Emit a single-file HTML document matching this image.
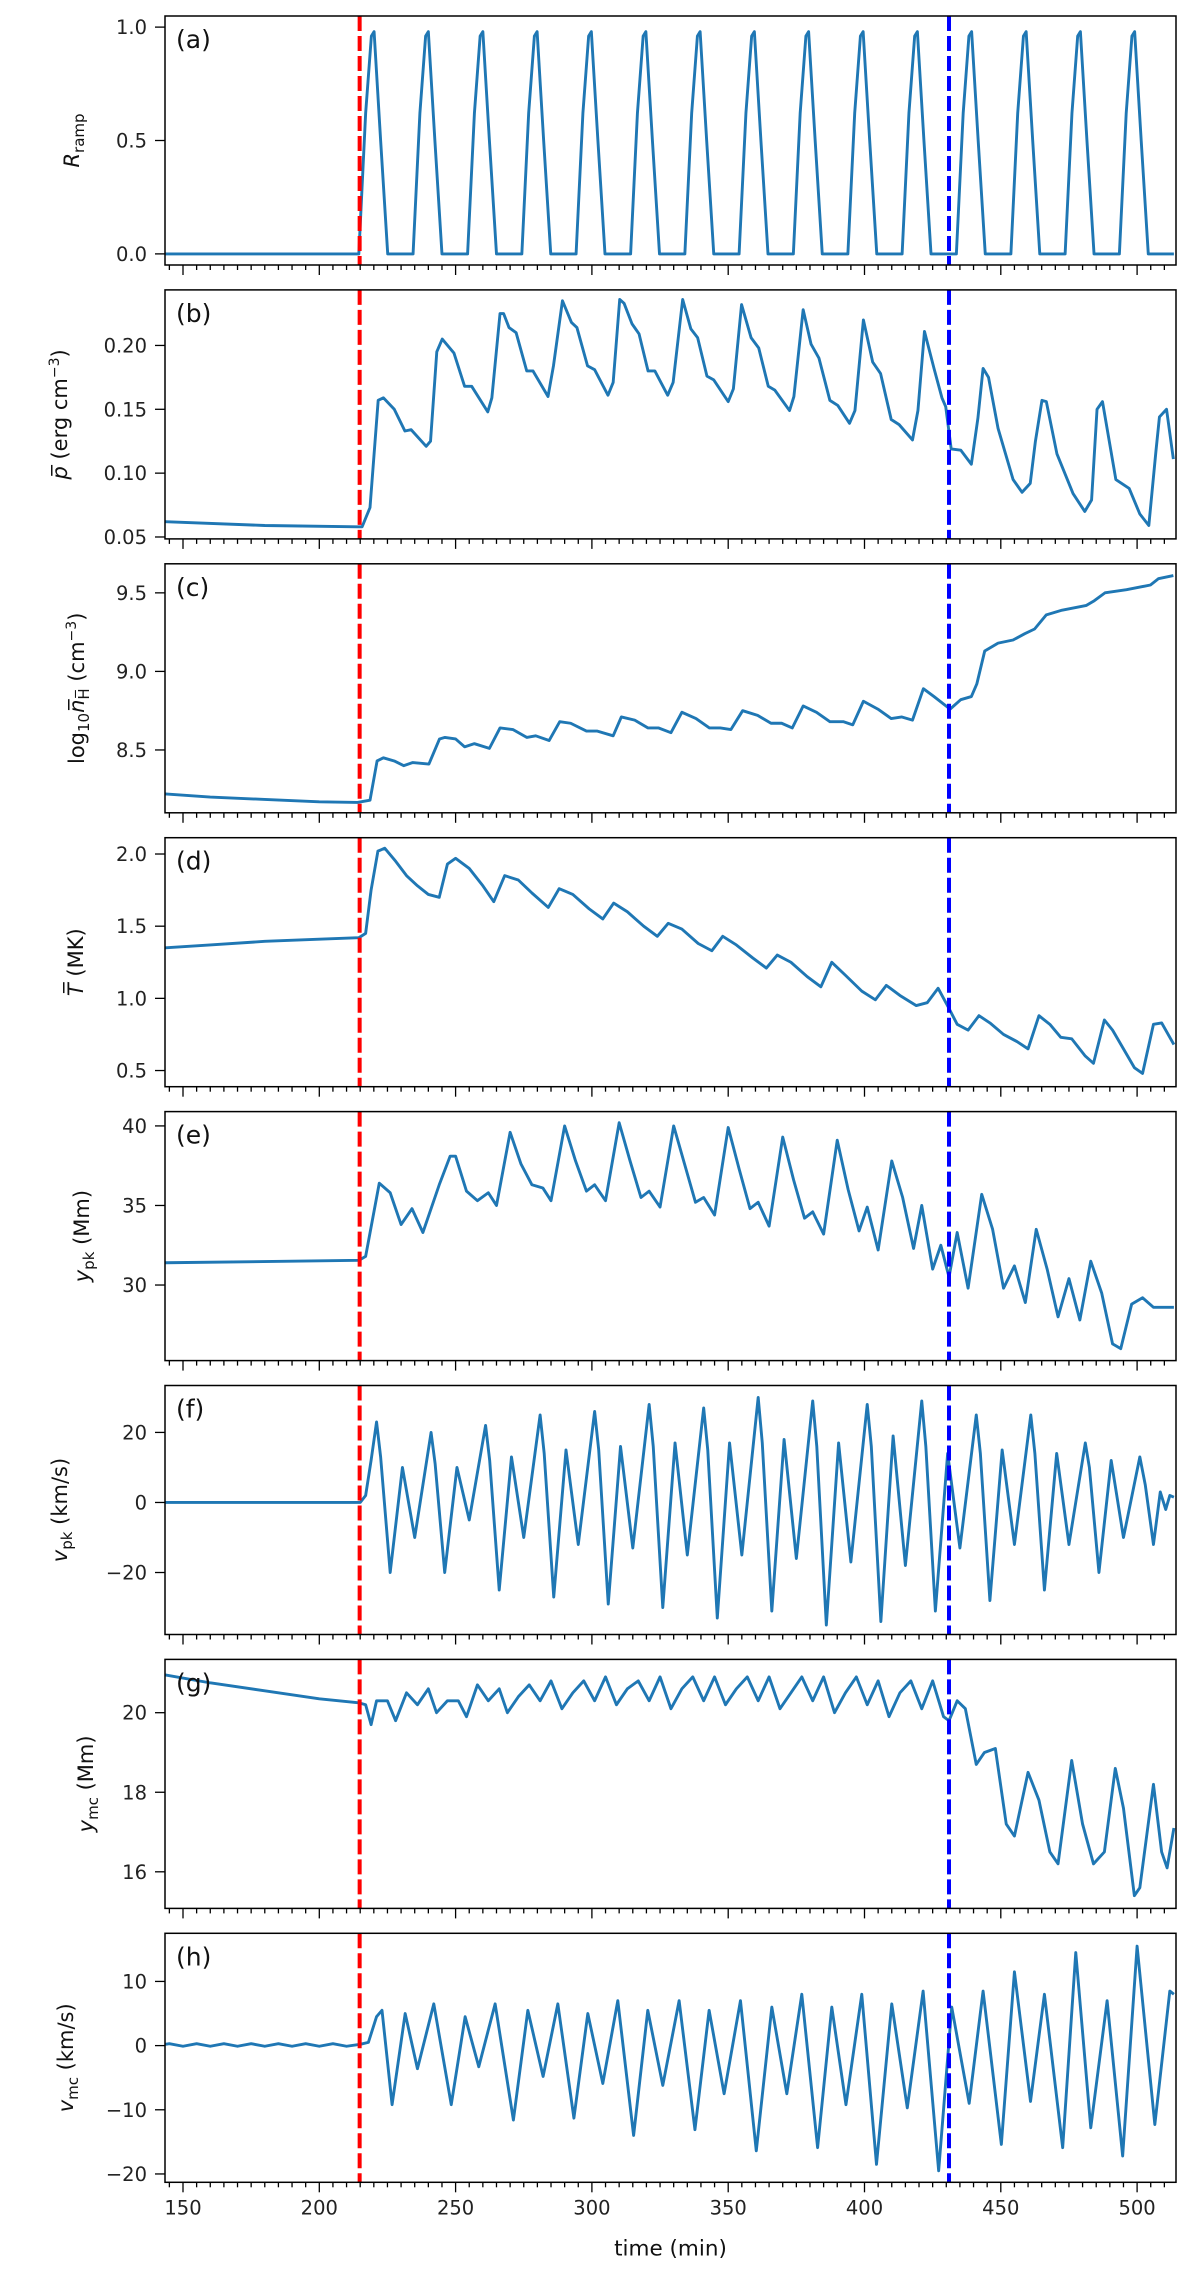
<!DOCTYPE html>
<html><head><meta charset="utf-8">
<style>
html,body{margin:0;padding:0;background:#fff;}
svg{display:block;font-family:"DejaVu Sans","Liberation Sans",sans-serif;}
</style></head>
<body>
<svg id="fig" width="1200" height="2278" viewBox="0 0 1200 2278" xmlns="http://www.w3.org/2000/svg"></svg>
<script>
// ---- data ----
const xTicks=[150,200,250,300,350,400,450,500];
const redLineT=214.8;
const blueLineT=431;

const tA=[143.5,214.5,217.0,219.1,220.1,222.5,225.1,234.4,236.9,239.0,240.0,242.4,245.0,254.4,256.9,259.0,260.0,262.4,265.0,274.3,276.8,278.9,279.9,282.3,284.9,294.2,296.7,298.8,299.8,302.2,304.8,314.2,316.7,318.8,319.8,322.2,324.8,334.1,336.6,338.7,339.7,342.1,344.7,354.0,356.5,358.6,359.6,362.0,364.6,373.9,376.4,378.5,379.5,381.9,384.5,393.9,396.4,398.5,399.5,401.9,404.5,413.8,416.3,418.4,419.4,421.8,424.4,433.7,436.2,438.3,439.3,441.7,444.3,453.7,456.2,458.3,459.3,461.7,464.3,473.6,476.1,478.2,479.2,481.6,484.2,493.5,496.0,498.1,499.1,501.5,504.1,513.5];
const vA=[0,0,0.62,0.96,0.98,0.5,0,0,0.62,0.96,0.98,0.5,0,0,0.62,0.96,0.98,0.5,0,0,0.62,0.96,0.98,0.5,0,0,0.62,0.96,0.98,0.5,0,0,0.62,0.96,0.98,0.5,0,0,0.62,0.96,0.98,0.5,0,0,0.62,0.96,0.98,0.5,0,0,0.62,0.96,0.98,0.5,0,0,0.62,0.96,0.98,0.5,0,0,0.62,0.96,0.98,0.5,0,0,0.62,0.96,0.98,0.5,0,0,0.62,0.96,0.98,0.5,0,0,0.62,0.96,0.98,0.5,0,0,0.62,0.96,0.98,0.5,0,0];

const tB=[143.5,180,214,215.7,218.6,221.6,223.5,227.5,231.4,233.7,239.2,240.8,243.1,245.1,249.4,253.3,255.9,261.8,263.3,266.3,267.6,269.6,272.2,276.1,278.4,283.9,285.9,289.2,292.5,294.5,298.4,301.0,305.9,307.8,310.2,311.8,314.7,317.3,320.6,323.1,327.8,329.8,333.3,336.3,338.8,342.2,344.7,350.0,351.9,354.9,358.4,361.2,364.7,367.1,372.5,374.1,377.5,380.4,383.3,387.3,390.2,394.5,396.5,399.6,403.0,405.9,409.8,412.7,417.6,419.6,422.0,425.5,428.4,429.8,431.8,435.3,439.2,441.6,443.5,445.5,449.0,454.5,457.8,460.8,462.7,465.1,466.7,470.6,476.5,480.8,483.3,485.3,487.3,492.2,497.1,501.0,504.3,506.9,508.2,510.8,513.3];
const vB=[0.062,0.059,0.058,0.058,0.073,0.157,0.159,0.150,0.133,0.134,0.121,0.125,0.195,0.205,0.194,0.168,0.168,0.148,0.159,0.225,0.225,0.214,0.210,0.180,0.180,0.160,0.184,0.235,0.218,0.214,0.184,0.181,0.161,0.171,0.236,0.233,0.217,0.209,0.180,0.180,0.161,0.171,0.236,0.213,0.206,0.176,0.173,0.156,0.166,0.232,0.206,0.198,0.168,0.165,0.149,0.160,0.228,0.201,0.190,0.157,0.153,0.139,0.149,0.220,0.187,0.178,0.142,0.138,0.126,0.149,0.211,0.182,0.159,0.152,0.119,0.118,0.107,0.143,0.182,0.175,0.135,0.095,0.085,0.092,0.125,0.157,0.156,0.115,0.084,0.070,0.079,0.150,0.156,0.095,0.088,0.068,0.059,0.117,0.144,0.150,0.111];

const tC=[143.5,160,180,200,214,218.6,221.2,223.5,227.5,231.0,234.3,240.2,244.1,246.1,250.0,253.3,256.9,262.4,266.3,271.0,276.1,279.4,284.3,288.2,292.2,298.0,302.0,307.8,310.8,315.7,320.6,324.5,329.0,333.0,338.2,343.1,347.1,351.0,355.3,360.8,365.7,369.6,373.5,377.5,382.4,387.3,392.2,395.7,399.6,404.9,409.8,413.7,417.6,421.6,425.5,431.4,435.3,439.2,441.2,444.1,449.0,454.5,458.8,462.4,466.7,472.5,481.4,484.3,488.2,496.1,504.9,507.8,513.3];
const vC=[8.22,8.20,8.185,8.17,8.166,8.18,8.43,8.45,8.43,8.40,8.42,8.41,8.57,8.58,8.57,8.52,8.54,8.51,8.64,8.63,8.58,8.59,8.56,8.68,8.67,8.62,8.62,8.59,8.71,8.69,8.64,8.64,8.61,8.74,8.70,8.64,8.64,8.63,8.75,8.72,8.67,8.67,8.64,8.78,8.74,8.68,8.68,8.66,8.81,8.76,8.70,8.71,8.69,8.89,8.84,8.76,8.82,8.84,8.92,9.13,9.18,9.20,9.24,9.27,9.36,9.39,9.42,9.45,9.50,9.52,9.55,9.59,9.61];

const tD=[143.5,160,180,200,214.5,217,219,221.5,224,228,232,236,240,244,247,250,255,260,264,268,273,278,284,288,293,299,304,308,313,319,324,328,333,339,344,348,353,359,364,368,373,379,384,388,393,399,404,408,413,419,423,427,429,431,434,438,442,446,451,456,460,464,468,472,476,481,484,488,491,495,499,502,506,509,513.5];
const vD=[1.35,1.37,1.395,1.41,1.42,1.45,1.75,2.02,2.04,1.95,1.85,1.78,1.72,1.70,1.93,1.97,1.90,1.78,1.67,1.85,1.82,1.73,1.63,1.76,1.72,1.62,1.55,1.66,1.60,1.50,1.43,1.52,1.48,1.38,1.33,1.43,1.37,1.28,1.21,1.30,1.25,1.15,1.08,1.25,1.16,1.05,0.99,1.09,1.02,0.95,0.97,1.07,1.00,0.93,0.82,0.78,0.88,0.83,0.75,0.70,0.65,0.88,0.82,0.73,0.72,0.60,0.55,0.85,0.78,0.65,0.52,0.48,0.82,0.83,0.68];

const tE=[143.5,214.5,217,222,226,230,234,238,244,248,250,254,258,262,265,270,274,278,282,285,290,294,298,301,305,310,314,318,321,325,330,334,338,341,345,350,354,358,361,365,370,374,378,381,385,390,394,398,401,405,410,414,418,421,425,428,431,434,438,443,447,451,455,459,463,467,471,475,479,483,487,491,494,498,502,506,510,513.5];
const vE=[31.4,31.55,31.8,36.4,35.8,33.8,34.8,33.3,36.3,38.1,38.1,35.9,35.3,35.8,35.0,39.6,37.6,36.3,36.1,35.3,40.0,37.8,35.9,36.3,35.3,40.2,37.8,35.5,35.9,34.9,40.0,37.6,35.2,35.5,34.4,39.9,37.3,34.8,35.2,33.7,39.3,36.6,34.2,34.6,33.2,39.1,36.0,33.4,34.9,32.2,37.8,35.5,32.3,35.0,31.0,32.5,30.5,33.3,29.8,35.7,33.5,29.8,31.2,28.9,33.5,31.0,28.0,30.4,27.8,31.5,29.5,26.3,26.0,28.8,29.2,28.6,28.6,28.6];

const tF=[143.5,215,217,219,221,222.5,226,230.5,235,241,242.5,246,250.5,255,261,262.5,266,270.5,275,281,282.5,286,290.5,295,301,302.5,306,310.5,315,321,322.5,326,330.5,335,341,342.5,346,350.5,355,361,362.5,366,370.5,375,381,382.5,386,390.5,395,401,402.5,406,410.5,415,421,422.5,426,430.5,435,441,442.5,446,450.5,455,461,462.5,466,470.5,475,481,482.5,486,490.5,495,501,503,506,508.5,510.5,512,513.5];
const vF=[0,0,2,12,23,13,-20,10,-10,20,11,-20,10,-5,22,12,-25,13,-10,25,14,-27,15,-12,26,15,-29,16,-13,28,16,-30,17,-15,27,15,-33,17,-15,30,17,-31,18,-16,29,16,-35,17,-17,28,16,-34,19,-18,29,16,-31,14,-13,25,14,-28,15,-12,25,14,-25,14,-12,17,10,-20,12,-10,13,5,-12,3,-2,2,1.5];

const tG=[143.5,160,180,200,214.5,217,219,221,225,228,232,236,240,243,247,251,254,258,262,266,269,273,277,281,285,289,293,297,301,305,309,313,317,321,325,329,333,337,341,345,349,353,357,361,365,369,373,377,381,385,389,393,397,401,405,409,413,417,421,425,429,431,434,437,441,444,448,452,455,460,464,468,471,476,480,484,488,492,495,499,501,506,509,511,513.5];
const vG=[20.95,20.75,20.55,20.35,20.25,20.2,19.7,20.3,20.3,19.8,20.5,20.2,20.6,20.0,20.3,20.3,19.9,20.7,20.3,20.6,20.0,20.4,20.7,20.3,20.8,20.1,20.5,20.8,20.3,20.9,20.2,20.6,20.8,20.3,20.9,20.1,20.6,20.9,20.3,20.9,20.2,20.6,20.9,20.3,20.9,20.1,20.5,20.9,20.3,20.9,20.0,20.5,20.9,20.2,20.8,19.9,20.5,20.8,20.1,20.8,19.9,19.8,20.3,20.1,18.7,19.0,19.1,17.2,16.9,18.5,17.8,16.5,16.2,18.8,17.2,16.2,16.5,18.6,17.6,15.4,15.6,18.2,16.5,16.1,17.1];

const tH=[143.5,145,150,155,160,165,170,175,180,185,190,195,200,205,210,215,218,221,223,226.7,231.5,236,242,248.4,253.5,258.5,264.5,271.2,276.5,282.1,287.5,293.4,298.5,304,309.5,315.3,320.5,326,332,337.8,343,348.5,354.5,360.3,366,371.5,377,382.8,388,393.2,399,404.4,410,415.7,421.5,427.2,432,438.4,443.5,450.2,455,460.9,466,472.7,477.5,483,489,494.7,500,506.5,512,513.5];
const vH=[0.2,0.3,-0.1,0.3,-0.1,0.3,-0.1,0.3,-0.1,0.3,-0.1,0.3,-0.1,0.3,-0.1,0.2,0.5,4.5,5.5,-9.2,5,-3.6,6.5,-9.2,4.5,-3.3,6.5,-11.6,5.5,-4.8,6.5,-11.3,5,-5.9,7,-14,5.5,-6.2,7,-13.1,5.5,-7.5,7,-16.4,6,-7.5,8,-15.9,6,-9.2,8,-18.5,6.5,-9.7,8.5,-19.5,6,-9,8.5,-15.4,11.5,-8.7,8,-15.9,14.5,-12.8,7,-17.2,15.5,-12.3,8.5,8];

// ---- layout ----
const NS="http://www.w3.org/2000/svg";
const svg=document.getElementById('fig');
const L=165,R=1176,H=249,PITCH=273.9,TOP0=16;
const PXM=2.726;
function xs(t){return 183+(t-150)*PXM;}
function mk(tag,attrs,parent){const e=document.createElementNS(NS,tag);for(const k in attrs)e.setAttribute(k,attrs[k]);(parent||svg).appendChild(e);return e;}

const SUB='<tspan baseline-shift="-30%" font-size="15">';
const panels=[
 {id:'a',t:tA,v:vA,ymin:-0.049,ymax:1.049,ticks:[0,0.5,1.0],lab:['0.0','0.5','1.0'],lx:72,label:'<tspan font-style="italic">R</tspan>'+SUB+'ramp</tspan>'},
 {id:'b',t:tB,v:vB,ymin:0.0485,ymax:0.2435,ticks:[0.05,0.10,0.15,0.20],lab:['0.05','0.10','0.15','0.20'],lx:60,label:'<tspan font-style="italic">p&#773;</tspan> (erg cm<tspan baseline-shift="super" font-size="14">−3</tspan>)'},
 {id:'c',t:tC,v:vC,ymin:8.10,ymax:9.685,ticks:[8.5,9.0,9.5],lab:['8.5','9.0','9.5'],lx:77,label:'log'+SUB+'10</tspan><tspan font-style="italic">n&#773;</tspan>'+SUB+'H&#773;</tspan> (cm<tspan baseline-shift="super" font-size="14">−3</tspan>)'},
 {id:'d',t:tD,v:vD,ymin:0.388,ymax:2.113,ticks:[0.5,1.0,1.5,2.0],lab:['0.5','1.0','1.5','2.0'],lx:76,label:'<tspan font-style="italic">T&#773;</tspan> (MK)'},
 {id:'e',t:tE,v:vE,ymin:25.25,ymax:40.9,ticks:[30,35,40],lab:['30','35','40'],lx:82,label:'<tspan font-style="italic">y</tspan>'+SUB+'pk</tspan> (Mm)'},
 {id:'f',t:tF,v:vF,ymin:-37.7,ymax:33.4,ticks:[-20,0,20],lab:['−20','0','20'],lx:60,label:'<tspan font-style="italic">v</tspan>'+SUB+'pk</tspan> (km/s)'},
 {id:'g',t:tG,v:vG,ymin:15.08,ymax:21.34,ticks:[16,18,20],lab:['16','18','20'],lx:86,label:'<tspan font-style="italic">y</tspan>'+SUB+'mc</tspan> (Mm)'},
 {id:'h',t:tH,v:vH,ymin:-21.3,ymax:17.5,ticks:[-20,-10,0,10],lab:['−20','−10','0','10'],lx:66,label:'<tspan font-style="italic">v</tspan>'+SUB+'mc</tspan> (km/s)'}
];

const defs=mk('defs',{});
panels.forEach((p,i)=>{
  const top=TOP0+i*PITCH, bot=top+H;
  const ys=v=>top+(p.ymax-v)/(p.ymax-p.ymin)*H;
  const g=mk('g',{});
  
  
  const cp=mk('clipPath',{id:'clip'+p.id},defs);
  mk('rect',{x:L,y:top,width:R-L,height:H},cp);
  let d='';
  for(let k=0;k<p.t.length;k++){d+=(k?'L':'M')+xs(p.t[k]).toFixed(2)+','+ys(p.v[k]).toFixed(2);}
  const line=mk('path',{d:d,fill:'none',stroke:'#1f77b4','stroke-width':2.9,'stroke-linejoin':'round','clip-path':'url(#clip'+p.id+')'},g);
  
  
  const rl=mk('line',{x1:xs(redLineT),x2:xs(redLineT),y1:top,y2:bot,stroke:'#ff0000','stroke-width':4,'stroke-dasharray':'15 5'},g);
  
  
  const bl=mk('line',{x1:xs(blueLineT),x2:xs(blueLineT),y1:top,y2:bot,stroke:'#0000ff','stroke-width':4,'stroke-dasharray':'15 5'},g);
  
  
  const fr=mk('rect',{x:L,y:top,width:R-L,height:H,fill:'none',stroke:'#000','stroke-width':1.5},g);
  
  
  for(let t=145;t<=513;t+=5){
    const major=(t%50===0);
    mk('line',{x1:xs(t),x2:xs(t),y1:bot,y2:bot+(major?10:5),stroke:'#000','stroke-width':1.3},g);
  }
  p.ticks.forEach((tv,j)=>{
    const y=ys(tv);
    mk('line',{x1:L-10,x2:L,y1:y,y2:y,stroke:'#000','stroke-width':1.3},g);
    const tx=mk('text',{x:147,y:y+7,'text-anchor':'end','font-size':19.5,fill:'#222'},g);
    tx.textContent=p.lab[j];
    
    
  });
  const pl=mk('text',{x:176,y:top+32,'font-size':25,fill:'#111'},g);
  pl.textContent='('+p.id+')';
  
  
  const cy=top+H/2;
  const yl=mk('text',{x:p.lx,y:cy,'text-anchor':'middle','font-size':21,fill:'#111',transform:'rotate(-90 '+p.lx+' '+cy+') translate(0 7)'},g);
  yl.innerHTML=p.label;
  
  
  if(i===panels.length-1){
    xTicks.forEach(t=>{
      const tx=mk('text',{x:xs(t),y:bot+32,'text-anchor':'middle','font-size':19.5,fill:'#222'},g);
      tx.textContent=String(t);
      
      
    });
    const xl=mk('text',{x:(L+R)/2,y:bot+73,'text-anchor':'middle','font-size':21.5,fill:'#111'},g);
    xl.textContent='time (min)';
    
    
  }
});
</script>
</body></html>
